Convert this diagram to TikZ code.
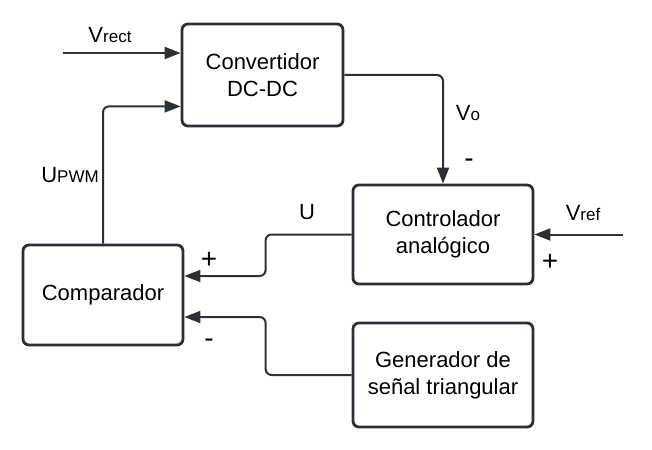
\documentclass[tikz,border=0pt]{standalone}
\usepackage{fontspec}
\setmainfont{Liberation Sans}
\usetikzlibrary{arrows.meta,calc}
\definecolor{linegray}{RGB}{44,48,54}
\tikzset{
	block/.style={draw=linegray, line width=1.4pt, rounded corners=3pt, align=center,
		font=\fontsize{11}{13.5}\selectfont, inner sep=0pt},
	arr/.style={draw=linegray, line width=1pt, rounded corners=3pt,
		-{Triangle[length=8pt,width=6pt]}},
	lbl/.style={font=\fontsize{11}{13}\selectfont, inner sep=0pt}
}
\newcommand{\sub}[1]{{\fontsize{8.5}{10}\selectfont #1}}
\newcommand{\sgn}[1]{{\fontsize{14}{14}\selectfont #1}}
\begin{document}
\begin{tikzpicture}[x=0.5pt, y=-0.5pt]
			\useasboundingbox (0,0) rectangle (652,449);
			% blocks
			\node[block, minimum width=80.5pt, minimum height=51pt] (conv) at (262.5,75) {Convertidor\\DC-DC};
			\node[block, minimum width=90pt, minimum height=49.5pt] (ctrl) at (443,234.5) {Controlador\\anal\'ogico};
			\node[block, minimum width=80pt, minimum height=50pt] (comp) at (103,295) {Comparador};
			\node[block, minimum width=90pt, minimum height=52pt] (gen) at (443,375) {Generador de\\se\~nal triangular};
			% free ends and inputs
			\coordinate (vrect) at (63,53);
			\coordinate (vref) at (623,234.5);
			\coordinate (conv-in) at ($(conv.south west)+(0,10.5pt)$);
			\coordinate (comp-p) at ($(comp.east)+(0,9.5pt)$);
			\coordinate (comp-m) at ($(comp.east)+(0,-11pt)$);
			% connectors
			\draw[arr] (vrect) -- (vrect -| conv.west);
			\draw[arr] (conv.east) -| (ctrl.north);
			\draw[arr] (comp.north) |- (conv-in);
			\draw[arr] (vref) -- (ctrl.east);
			\draw[arr] (ctrl.west) -- ++(-43pt,0) |- (comp-p);
			\draw[arr] (gen.west) -- ++(-43pt,0) |- (comp-m);
			% labels
			\foreach \coord/\label [count=\xi] in {
				{110,35}/{V\sub{rect}},
				{70,175}/{U\sub{PWM}},
				{468,113}/{V\sub{o}},
				{469,163}/{\sgn{-}},
				{307,212}/{U},
				{583,213}/{V\sub{ref}},
				{550,262}/{\sgn{+}},
				{209,260}/{\sgn{+}},
				{209,343}/{\sgn{-}}
			}{
			\node[lbl] (lbl-\xi) at (\coord) {\label};
			}
\end{tikzpicture}
\end{document}
